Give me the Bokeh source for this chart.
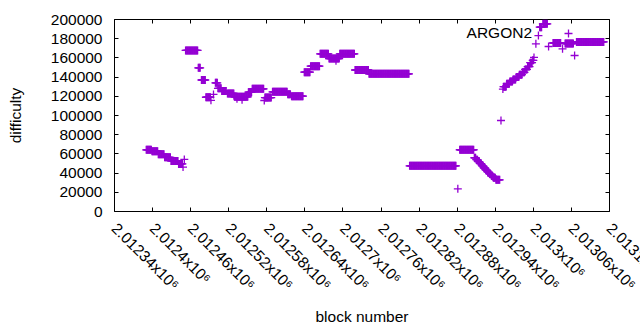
from math import pi
from bokeh.plotting import figure
from bokeh.models import (FixedTicker, LinearAxis, Range1d, Label, Legend, LegendItem,
                          CustomJSTickFormatter, ColumnDataSource)
from bokeh.core.properties import value
from bokeh.embed import file_html
from bokeh.resources import INLINE

# ---- data: runs of consecutive blocks with the same difficulty ----
run_start = [2012390, 2012399, 2012409, 2012419, 2012429, 2012441,
             2012452, 2012472, 2012477, 2012484,
             2012499, 2012503, 2012509, 2012518, 2012529, 2012551, 2012557,
             2012577, 2012589, 2012613, 2012619, 2012639, 2012649, 2012664,
             2012678, 2012695, 2012719, 2012741, 2012805, 2012884,
             2012907, 2012910, 2012913, 2012916, 2012919, 2012922, 2012925,
             2012928, 2012931, 2012934, 2012937, 2012941,
             2012953, 2012958, 2012963, 2012968, 2012973, 2012978, 2012983,
             2012987, 2012991, 2012995, 2012999,
             2013010, 2013015, 2013031, 2013050, 2013068]
run_end = [2012398, 2012408, 2012418, 2012428, 2012440, 2012447,
           2012471, 2012475, 2012483, 2012491,
           2012502, 2012508, 2012516, 2012528, 2012550, 2012556, 2012575,
           2012587, 2012612, 2012617, 2012637, 2012648, 2012663, 2012677,
           2012694, 2012718, 2012740, 2012804, 2012878, 2012906,
           2012909, 2012912, 2012915, 2012918, 2012921, 2012924, 2012927,
           2012930, 2012933, 2012936, 2012940, 2012947,
           2012957, 2012962, 2012967, 2012972, 2012977, 2012982, 2012986,
           2012990, 2012994, 2012998, 2013000,
           2013013, 2013022, 2013043, 2013063, 2013111]
run_value = [64200, 62800, 59600, 56400, 52700, 49600,
             167800, 149700, 137000, 119000,
             134000, 128300, 125500, 122900, 119500, 124300, 127800,
             118700, 124700, 122200, 120100, 145100, 151400, 164200,
             159400, 164200, 147400, 143400, 47600, 64300,
             56000, 54000, 52000, 49800, 47500, 45300, 43200,
             41000, 39000, 37000, 35200, 33000,
             130000, 133000, 135500, 137500, 140000, 142500, 145000,
             148000, 151000, 155000, 157500,
             192000, 195500, 175500, 175000, 176600]

# ---- data: isolated blocks ----
single_block = [2012448, 2012450, 2012492, 2012496, 2012533, 2012541, 2012576,
                2012689, 2012881, 2012949, 2012952, 2013001, 2013004, 2013008,
                2013024, 2013046, 2013065]
single_value = [46300, 54200, 115800, 122000, 117400, 116400, 115600,
                157000, 23600, 94800, 127500, 160500, 174700, 183300,
                171900, 169500, 162500]

x_ticks = [2012340, 2012400, 2012460, 2012520, 2012580, 2012640, 2012700,
           2012760, 2012820, 2012880, 2012940, 2013000, 2013060, 2013120]
x_tick_labels = ["2.01234x10⁶", "2.0124x10⁶", "2.01246x10⁶", "2.01252x10⁶",
                 "2.01258x10⁶", "2.01264x10⁶", "2.0127x10⁶", "2.01276x10⁶",
                 "2.01282x10⁶", "2.01288x10⁶", "2.01294x10⁶", "2.013x10⁶",
                 "2.01306x10⁶", "2.01312x10⁶"]
y_ticks = [0, 20000, 40000, 60000, 80000, 100000, 120000, 140000, 160000,
           180000, 200000]
y_tick_labels = ["0", "20000", "40000", "60000", "80000", "100000", "120000",
                 "140000", "160000", "180000", "200000"]

series_name = "ARGON2"
x_title = "block number"
y_title = "difficulty"

# expand runs into one point per block
xs, ys = [], []
for s, e, v in zip(run_start, run_end, run_value):
    for b in range(s, e + 1):
        xs.append(b)
        ys.append(v)
xs += single_block
ys += single_value

FONT = "Liberation Sans"
FS = "15.5px"
COLOR = "#9400d3"

# canvas a bit wider than the window so the last tick label runs past the
# window edge (as in the original) instead of being pushed back inside
p = figure(width=700, height=330,
           x_range=Range1d(x_ticks[0], x_ticks[-1]),
           y_range=Range1d(y_ticks[0], y_ticks[-1]),
           output_backend="svg", toolbar_location=None,
           min_border_left=114, min_border_right=91,
           min_border_top=19, min_border_bottom=119)
p.grid.visible = False
p.outline_line_color = "black"
p.outline_line_width = 1
p.background_fill_color = "white"
p.border_fill_color = "white"

src = ColumnDataSource(dict(x=xs, y=ys))
r = p.scatter("x", "y", source=src, marker="cross", size=8,
              line_color=COLOR, line_width=1.3)

def style_axis(ax):
    ax.axis_line_color = None
    ax.major_tick_in = 4
    ax.major_tick_out = 0
    ax.major_tick_line_color = "black"
    ax.minor_tick_line_color = None
    ax.major_label_text_font = FONT
    ax.major_label_text_font_size = FS
    ax.major_label_text_color = "black"
    ax.axis_label_text_font = FONT
    ax.axis_label_text_font_size = FS
    ax.axis_label_text_font_style = "normal"
    ax.axis_label_text_color = "black"

xa = p.xaxis[0]
style_axis(xa)
xa.ticker = FixedTicker(ticks=x_ticks)
xa.major_label_overrides = dict(zip(x_ticks, x_tick_labels))
xa.major_label_orientation = -pi / 4
xa.major_label_standoff = 14
xa.axis_label = x_title
xa.axis_label_standoff = 6

ya = p.yaxis[0]
style_axis(ya)
ya.ticker = FixedTicker(ticks=y_ticks)
ya.major_label_overrides = dict(zip(y_ticks, y_tick_labels))
ya.major_label_standoff = 12
ya.axis_label = y_title
ya.axis_label_standoff = 24

for ticks, side in ((y_ticks, "right"), (x_ticks, "above")):
    ax = LinearAxis(ticker=FixedTicker(ticks=ticks),
                    formatter=CustomJSTickFormatter(code="return ''"))
    style_axis(ax)
    ax.major_label_text_font_size = "0px"
    ax.major_label_standoff = 0
    p.add_layout(ax, side)

# key: text on the left, sample on the right (gnuplot style)
p.add_layout(Label(x=417.5, y=179, x_units="screen", y_units="screen",
                   text=series_name, text_align="right", text_baseline="middle",
                   text_font=FONT, text_font_size=FS, text_color="black"))
leg = Legend(items=[LegendItem(label=value(""), renderers=[r])],
             location=(444, 168), glyph_width=20, glyph_height=20,
             padding=0, margin=0, spacing=0, label_standoff=0,
             label_width=0, label_height=0,
             border_line_color=None, background_fill_alpha=0)
p.add_layout(leg)

open("out.html", "w").write(file_html(p, INLINE))
